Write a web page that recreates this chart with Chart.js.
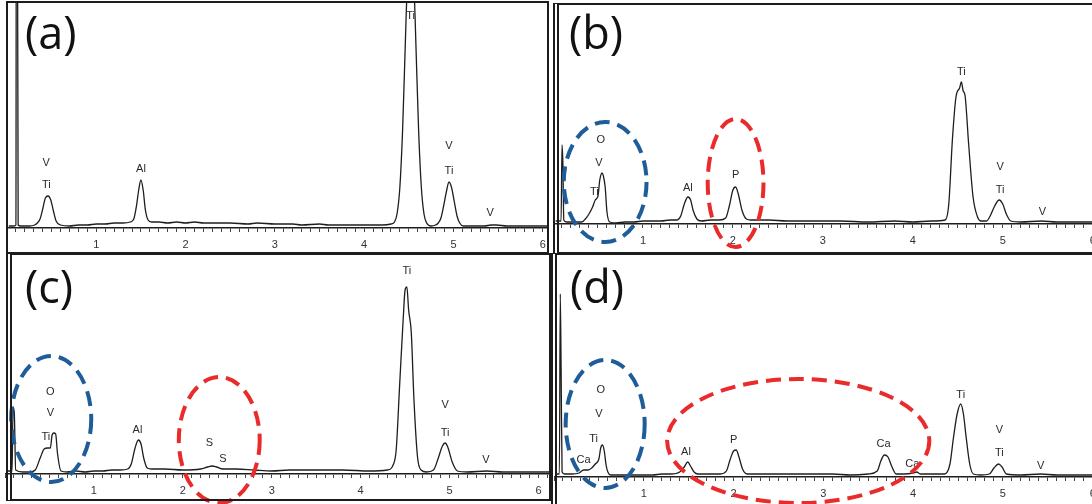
<!DOCTYPE html>
<html><head><meta charset="utf-8">
<script src="https://cdn.jsdelivr.net/npm/chart.js@4.4.1/dist/chart.umd.min.js"></script>
<style>
html,body{margin:0;padding:0;background:#fff;width:1092px;height:504px;overflow:hidden;position:relative}
canvas{position:absolute}
.frame{position:absolute;box-sizing:border-box;border:2px solid #1c1c1c;pointer-events:none}
.tag{position:absolute;font-family:"Open Sans",sans-serif;font-size:45px;line-height:44px;color:#111;white-space:nowrap}
</style></head><body>
<canvas id="cA" width="542" height="251" style="left:7px;top:3px"></canvas>
<canvas id="cB" width="546" height="249" style="left:553px;top:5px"></canvas>
<canvas id="cC" width="545" height="250" style="left:5px;top:254px"></canvas>
<canvas id="cD" width="545" height="250" style="left:554px;top:254px"></canvas>
<div class="frame" style="left:6px;top:1px;width:543px;height:253px"></div>
<div class="frame" style="left:553px;top:3px;width:560px;height:251px;border-left:6px double #1c1c1c"></div>
<div class="frame" style="left:6px;top:253px;width:545px;height:248px;border-left:6px double #1c1c1c"></div>
<div class="frame" style="left:551px;top:253px;width:560px;height:262px;border-left:6px double #1c1c1c"></div>
<div class="tag" style="left:25px;top:10px">(a)</div>
<div class="tag" style="left:569px;top:10px">(b)</div>
<div class="tag" style="left:25px;top:264px">(c)</div>
<div class="tag" style="left:570px;top:264px">(d)</div>
<script>
// ---- Spectrum (a): energy (keV) and intensity
const energyA = [0.02,0.08,0.100,0.105,0.115,0.125,0.15,0.25,0.31,0.34,0.37,0.40,0.43,0.46,0.49,0.52,0.55,0.60,0.7,0.8,0.9,1.0,1.1,1.2,1.3,1.38,1.42,1.45,1.475,1.50,1.525,1.55,1.58,1.62,1.7,1.8,1.9,2.0,2.1,2.2,2.3,2.5,2.7,2.8,3.0,3.2,3.3,3.5,3.6,3.8,3.9,4.1,4.2,4.30,4.34,4.37,4.40,4.43,4.46,4.49,4.52,4.55,4.58,4.61,4.64,4.67,4.70,4.75,4.80,4.83,4.86,4.89,4.92,4.95,4.98,5.01,5.04,5.07,5.11,5.2,5.35,5.42,5.48,5.6,5.8,6.0,6.07];
const countsA = [2,2,3,400,400,3,2,2,3,5,9,19,30,32,28,17,7,3,2,3,3,4,4,5,5,6,9,22,38,48,38,18,8,6,6,5,6,5,6,5,5,5,4,5,4,4,3,4,3,3,3,3,3,4,6,15,41,97,182,265,300,265,182,97,41,14,5,2,3,5,10,22,36,46,40,26,12,5,2,2,2,3,3,2,2,2,2];
const peakTextA = ['V','Ti','Al','Ti','V','Ti','V'];
const peakKevA  = [0.44,0.44,1.50,4.52,4.95,4.95,5.41];
const peakAtA   = [65,43,59,212,82,57,15];

// ---- Spectrum (b)
const energyB = [0.03,0.09,0.100,0.110,0.120,0.15,0.25,0.32,0.36,0.40,0.44,0.47,0.50,0.52,0.545,0.56,0.58,0.60,0.63,0.7,0.8,0.9,1.0,1.1,1.2,1.3,1.38,1.42,1.46,1.50,1.53,1.56,1.60,1.65,1.75,1.85,1.92,1.96,2.00,2.03,2.06,2.10,2.15,2.2,2.4,2.6,2.8,3.0,3.2,3.5,3.8,4.0,4.2,4.36,4.40,4.44,4.48,4.52,4.54,4.56,4.58,4.62,4.67,4.72,4.76,4.82,4.86,4.91,4.96,5.00,5.04,5.09,5.2,5.43,5.6,5.8,6.0,6.07];
const countsB = [3,3,79,60,4,2,2,2,5,10,17,24,28,44,51,48,37,12,2,1,2,2,3,3,3,4,4,8,20,27,24,13,5,3,4,4,6,18,34,37,30,14,5,4,4,3,3,3,3,2,3,2,3,4,20,84,127,136,142,133,129,81,27,7,3,3,8,18,24,20,10,3,2,3,2,2,2,2];
const peakTextB = ['O','V','Ti','Al','P','Ti','V','Ti','V'];
const peakKevB  = [0.53,0.51,0.46,1.50,2.03,4.54,4.97,4.97,5.44];
const peakAtB   = [84,61,32,36,49,152,57,34,12];

// ---- Spectrum (c)
const energyC = [0.03,0.08,0.090,0.105,0.120,0.2,0.28,0.34,0.40,0.44,0.48,0.51,0.53,0.55,0.57,0.59,0.63,0.7,0.8,0.9,1.0,1.1,1.2,1.3,1.38,1.42,1.46,1.50,1.53,1.56,1.60,1.65,1.8,2.0,2.2,2.28,2.33,2.38,2.45,2.6,2.8,3.0,3.2,3.5,3.8,4.1,4.3,4.37,4.40,4.44,4.48,4.50,4.52,4.54,4.57,4.60,4.64,4.68,4.74,4.82,4.87,4.92,4.95,4.98,5.03,5.09,5.2,5.42,5.6,5.8,6.0,6.13];
const countsC = [3,3,67,60,4,2,2,4,17,25,26,26,39,41,40,21,3,2,3,2,3,3,4,4,5,10,25,34,30,16,6,5,5,4,5,7,8,7,5,5,4,3,4,4,4,3,4,10,24,91,157,184,187,164,141,74,17,4,2,4,15,28,31,27,12,3,2,3,2,2,2,2];
const peakTextC = ['O','V','Ti','Al','S','S','Ti','V','Ti','V'];
const peakKevC  = [0.51,0.51,0.46,1.49,2.30,2.45,4.52,4.95,4.95,5.41];
const peakAtC   = [82,61,37,44,31,15,203,69,41,14];

// ---- Spectrum (d)
const energyD = [0.02,0.06,0.070,0.080,0.090,0.12,0.2,0.28,0.33,0.38,0.42,0.46,0.50,0.52,0.54,0.56,0.58,0.60,0.63,0.7,0.8,0.9,1.0,1.1,1.2,1.3,1.40,1.45,1.49,1.52,1.56,1.6,1.7,1.85,1.92,1.96,2.00,2.03,2.06,2.10,2.15,2.3,2.5,2.7,2.9,3.1,3.3,3.5,3.60,3.64,3.68,3.72,3.76,3.81,3.9,4.0,4.04,4.08,4.2,4.35,4.41,4.45,4.49,4.53,4.56,4.59,4.63,4.67,4.75,4.85,4.90,4.95,4.99,5.04,5.2,5.42,5.6,5.8,6.0,6.07];
const countsD = [3,3,183,100,5,3,3,4,7,7,9,13,18,29,32,26,12,5,2,2,2,2,2,2,3,3,5,10,15,11,5,3,3,3,6,17,26,27,20,8,3,3,3,3,3,3,2,3,6,16,22,20,11,3,3,4,5,3,3,3,13,40,63,73,63,40,13,3,2,3,9,13,10,3,2,3,2,2,2,2];
const peakTextD = ['O','V','Ti','Ca','Al','P','Ca','Ca','Ti','V','Ti','V'];
const peakKevD  = [0.52,0.50,0.44,0.33,1.47,2.00,3.67,3.99,4.53,4.96,4.96,5.42];
const peakAtD   = [87,63,38,17,25,37,33,13,82,47,24,11];

// Highlight rings (centre keV / intensity, half-widths)
const BLUE = '#1f5d99', RED = '#ea2b2b';
const ringsB = [{kev:0.58,h:42,rk:0.46,rh:60,color:BLUE},{kev:2.03,h:41,rk:0.31,rh:64,color:RED}];
const ringsC = [{kev:0.52,h:55,rk:0.45,rh:63,color:BLUE},{kev:2.41,h:34,rk:0.455,rh:63,color:RED}];
const ringsD = [{kev:0.57,h:53,rk:0.44,rh:64,color:BLUE},{kev:2.72,h:36,rk:1.46,rh:62,color:RED}];

const annot = {
  id: 'annot',
  afterDatasetsDraw(chart, args, o) {
    const {ctx} = chart, x = chart.scales.x, y = chart.scales.y;
    ctx.save();
    ctx.font = '11px "Liberation Sans", Arial, sans-serif';
    ctx.fillStyle = '#2a2a2a'; ctx.textAlign = 'center'; ctx.textBaseline = 'middle';
    o.text.forEach((t, i) => ctx.fillText(t, x.getPixelForValue(o.kev[i]), y.getPixelForValue(o.at[i])));
    ctx.lineWidth = 4; ctx.setLineDash([15, 8]);
    (o.rings || []).forEach(r => {
      const cx = x.getPixelForValue(r.kev), cy = y.getPixelForValue(r.h);
      const rx = Math.abs(x.getPixelForValue(r.kev + r.rk) - cx);
      const ry = Math.abs(y.getPixelForValue(r.h + r.rh) - cy);
      ctx.strokeStyle = r.color; ctx.beginPath();
      ctx.ellipse(cx, cy, rx, ry, 0, 0, Math.PI * 2); ctx.stroke();
    });
    ctx.restore();
  }
};

function spectrum(id, energy, counts, xmax, ymax, axisH, text, kev, at, rings) {
  new Chart(document.getElementById(id), {
    type: 'line',
    data: { datasets: [{ data: energy.map((e, i) => ({x: e, y: counts[i]})),
      borderColor: '#1e1e1e', borderWidth: 1.3, pointRadius: 0,
      cubicInterpolationMode: 'monotone', fill: false }] },
    options: {
      responsive: false, animation: false, events: [],
      layout: { padding: 0 },
      plugins: { legend: {display: false}, tooltip: {enabled: false},
        annot: { text, kev, at, rings } },
      scales: {
        x: { type: 'linear', min: 0, max: xmax,
          afterFit(s) { s.height = axisH; s.paddingLeft = 0; s.paddingRight = 0; },
          border: { display: true, color: '#1e1e1e', width: 1.5 },
          grid: { display: true, drawOnChartArea: false, drawTicks: true, tickLength: 4, tickColor: '#444', tickWidth: 1 },
          ticks: { stepSize: 0.1, autoSkip: false, includeBounds: false, maxRotation: 0, padding: 6,
            color: '#333', font: { family: '"Liberation Sans", Arial, sans-serif', size: 11 },
            callback: v => (Math.abs(v - Math.round(v)) < 1e-6 && Math.round(v) > 0) ? String(Math.round(v)) : '' } },
        y: { display: false, min: 0, max: ymax }
      }
    },
    plugins: [annot]
  });
}

spectrum('cA', energyA, countsA, 6.07, 225, 26, peakTextA, peakKevA, peakAtA, []);
spectrum('cB', energyB, countsB, 6.07, 219, 30, peakTextB, peakKevB, peakAtB, ringsB);
spectrum('cC', energyC, countsC, 6.13, 220, 30, peakTextC, peakKevC, peakAtC, ringsC);
spectrum('cD', energyD, countsD, 6.07, 223, 27, peakTextD, peakKevD, peakAtD, ringsD);
</script>
</body></html>
